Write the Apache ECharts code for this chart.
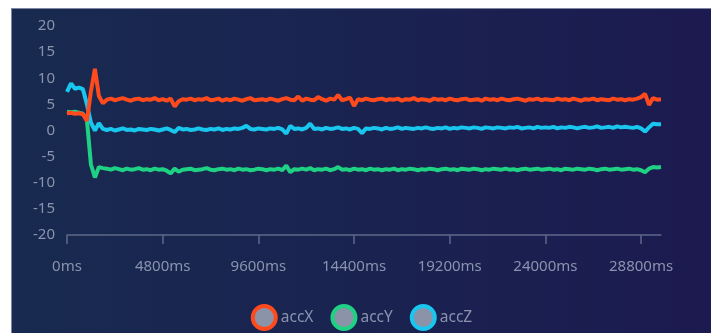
<!DOCTYPE html>
<html>
<head>
<meta charset="utf-8">
<script src="https://cdn.jsdelivr.net/npm/echarts@6/dist/echarts.min.js"></script>
<style>
html,body{margin:0;padding:0;background:#ffffff;width:711px;height:333px;overflow:hidden;}
#wrap{position:absolute;left:11px;top:8px;width:700px;height:325px;box-sizing:border-box;
border-top:1px solid #7d86a3;border-left:1px solid #7d86a3;
background:linear-gradient(to right,#182a50 0%,#1a2350 50%,#1c1a50 100%);}
#chart{width:699px;height:324px;}
</style>
</head>
<body>
<div id="wrap"><div id="chart"></div></div>
<script>
// time step between samples (ms) for the x categories
var stepMs = 200;
var sampleCount = 150;
var categories = [];
for (var i = 0; i < sampleCount; i++) categories.push((i * stepMs) + 'ms');

var seriesNames = ['accX', 'accY', 'accZ'];
var seriesColors = ['#ff4a1e', '#1fd183', '#18c6ee'];

var accX = [
 3.3, 3.4, 3.2, 3.3, 3.1, 1.8, 7.5, 11.8, 6.6, 5.2,
 5.9, 6.1, 5.8, 6.0, 6.2, 5.9, 5.7, 6.0, 6.1, 5.8,
 6.0, 5.9, 6.2, 5.8, 6.0, 5.7, 6.1, 4.6, 5.6, 6.0,
 5.9, 6.1, 5.8, 6.0, 5.9, 6.2, 5.8, 5.9, 6.1, 5.7,
 6.0, 5.8, 6.1, 5.9, 5.7, 6.0, 6.2, 5.8, 5.9, 6.0,
 5.8, 6.1, 5.9, 5.7, 6.0, 6.2, 5.9, 5.8, 6.5, 5.7,
 6.1, 5.9, 5.8, 6.4, 6.0, 5.7, 6.1, 5.9, 6.8, 5.8,
 6.0, 6.3, 4.7, 6.0, 5.8, 6.1, 5.9, 5.8, 6.0, 6.1,
 5.8, 6.0, 5.9, 6.1, 5.7, 6.0, 5.9, 6.2, 5.8, 6.0,
 5.9, 5.7, 6.1, 5.9, 6.0, 5.8, 6.1, 5.9, 5.8, 6.0,
 6.1, 5.8, 5.9, 6.0, 5.7, 6.1, 5.9, 6.0, 5.8, 6.1,
 5.9, 5.8, 6.0, 6.1, 5.9, 5.7, 6.0, 5.9, 6.1, 5.8,
 6.0, 5.9, 5.8, 6.1, 5.9, 6.0, 5.8, 6.1, 5.9, 5.7,
 6.0, 5.9, 6.1, 5.8, 6.0, 5.9, 5.8, 6.1, 5.9, 6.0,
 5.8, 6.0, 5.9, 6.1, 6.4, 7.0, 4.9, 6.2, 5.9, 6.0
];
var accY = [
 3.6, 3.5, 3.6, 3.4, 3.2, 2.0, -6.5, -9.0, -7.0, -7.2,
 -7.3, -7.5, -7.2, -7.4, -7.6, -7.3, -7.5, -7.4, -7.2, -7.5,
 -7.4, -7.6, -7.3, -7.5, -7.4, -7.7, -8.2, -7.3, -7.9, -7.5,
 -7.4, -7.3, -7.6, -7.5, -7.4, -7.2, -7.5, -7.6, -7.4, -7.3,
 -7.5, -7.4, -7.6, -7.3, -7.5, -7.4, -7.6, -7.5, -7.3, -7.4,
 -7.6, -7.4, -7.5, -7.3, -7.6, -6.7, -8.0, -7.4, -7.5, -7.3,
 -7.5, -7.2, -7.6, -7.4, -7.5, -7.3, -7.6, -7.4, -7.0, -7.5,
 -7.4, -7.6, -7.3, -7.5, -7.4, -7.6, -7.3, -7.5, -7.4, -7.6,
 -7.4, -7.5, -7.3, -7.6, -7.4, -7.5, -7.3, -7.4, -7.6, -7.4,
 -7.5, -7.3, -7.4, -7.6, -7.4, -7.3, -7.5, -7.4, -7.6, -7.3,
 -7.4, -7.5, -7.3, -7.4, -7.6, -7.4, -7.5, -7.3, -7.4, -7.5,
 -7.3, -7.5, -7.4, -7.6, -7.4, -7.3, -7.5, -7.4, -7.3, -7.5,
 -7.4, -7.3, -7.5, -7.4, -7.6, -7.3, -7.4, -7.5, -7.3, -7.4,
 -7.5, -7.3, -7.4, -7.6, -7.4, -7.3, -7.5, -7.4, -7.3, -7.5,
 -7.4, -7.3, -7.5, -7.4, -7.6, -8.0, -7.3, -7.0, -7.1, -7.0
];
var accZ = [
 7.4, 9.0, 8.0, 8.2, 7.9, 5.0, 1.5, 0.0, 1.4, 0.3,
 0.1, 0.3, 0.0, 0.2, 0.4, 0.1, 0.2, 0.0, 0.3, 0.2,
 0.1, 0.3, 0.2, 0.0, 0.2, 0.4, 0.1, -0.3, 0.5, 0.2,
 0.3, 0.1, 0.2, 0.4, 0.2, 0.1, 0.3, 0.2, 0.4, 0.1,
 0.3, 0.2, 0.4, 0.3, 0.5, 0.9, 0.3, 0.2, 0.4, 0.3,
 0.2, 0.4, 0.3, 0.5, 0.2, -0.6, 0.9, 0.3, 0.4, 0.2,
 0.5, 1.3, 0.3, 0.4, 0.2, 0.5, 0.3, 0.4, 0.6, 0.3,
 0.4, 0.2, 0.5, 0.3, -0.5, 0.4, 0.3, 0.5, 0.4, 0.2,
 0.5, 0.3, 0.4, 0.6, 0.3, 0.5, 0.4, 0.3, 0.5, 0.4,
 0.6, 0.4, 0.3, 0.5, 0.4, 0.6, 0.3, 0.5, 0.4, 0.6,
 0.5, 0.4, 0.6, 0.5, 0.3, 0.6, 0.5, 0.4, 0.6, 0.5,
 0.4, 0.6, 0.5, 0.7, 0.4, 0.5, 0.6, 0.4, 0.7, 0.5,
 0.6, 0.5, 0.7, 0.4, 0.6, 0.5, 0.7, 0.6, 0.4, 0.6,
 0.7, 0.5, 0.6, 0.8, 0.5, 0.6, 0.7, 0.5, 0.8, 0.6,
 0.7, 0.6, 0.5, 0.7, 0.4, -0.2, 0.6, 1.3, 1.2, 1.2
];
var yTicks = { min: -20, max: 20, interval: 5 };

var allData = [accX, accY, accZ];
var zOrder = [4, 2, 3];
var labelColor = '#8a93ad';
var font = 'Noto Sans';

var chart = echarts.init(document.getElementById('chart'), null, { renderer: 'canvas' });
chart.setOption({
  backgroundColor: 'transparent',
  animation: false,
  grid: { left: 55, right: 50, top: 17, bottom: 98, containLabel: false },
  legend: {
    left: 'center',
    top: 290,
    icon: 'circle',
    itemWidth: 23,
    itemHeight: 23,
    itemGap: 17,
    textStyle: { color: labelColor, fontSize: 15.5, fontFamily: font },
    data: seriesNames.map(function (n, k) {
      return { name: n, itemStyle: { color: '#8b93a8', borderColor: seriesColors[k], borderWidth: 4 } };
    })
  },
  xAxis: {
    type: 'category',
    boundaryGap: false,
    data: categories,
    axisLine: { show: true, onZero: false, lineStyle: { color: '#5f6889', width: 1.5 } },
    axisTick: { show: true, interval: 23, length: 9, lineStyle: { color: '#5f6889', width: 1.5 } },
    axisLabel: { interval: 23, color: labelColor, fontSize: 15, fontFamily: font, margin: 24 },
    splitLine: { show: false }
  },
  yAxis: {
    type: 'value',
    min: yTicks.min,
    max: yTicks.max,
    interval: yTicks.interval,
    axisLine: { show: false },
    axisTick: { show: false },
    splitLine: { show: false },
    axisLabel: { color: labelColor, fontSize: 15, fontFamily: font, margin: 12 }
  },
  series: seriesNames.map(function (n, k) {
    return {
      name: n,
      type: 'line',
      data: allData[k],
      z: zOrder[k],
      showSymbol: false,
      symbol: 'none',
      smooth: false,
      color: seriesColors[k],
      lineStyle: { color: seriesColors[k], width: 4 },
      itemStyle: { color: '#8b93a8', borderColor: seriesColors[k], borderWidth: 4 }
    };
  })
});
</script>
</body>
</html>
